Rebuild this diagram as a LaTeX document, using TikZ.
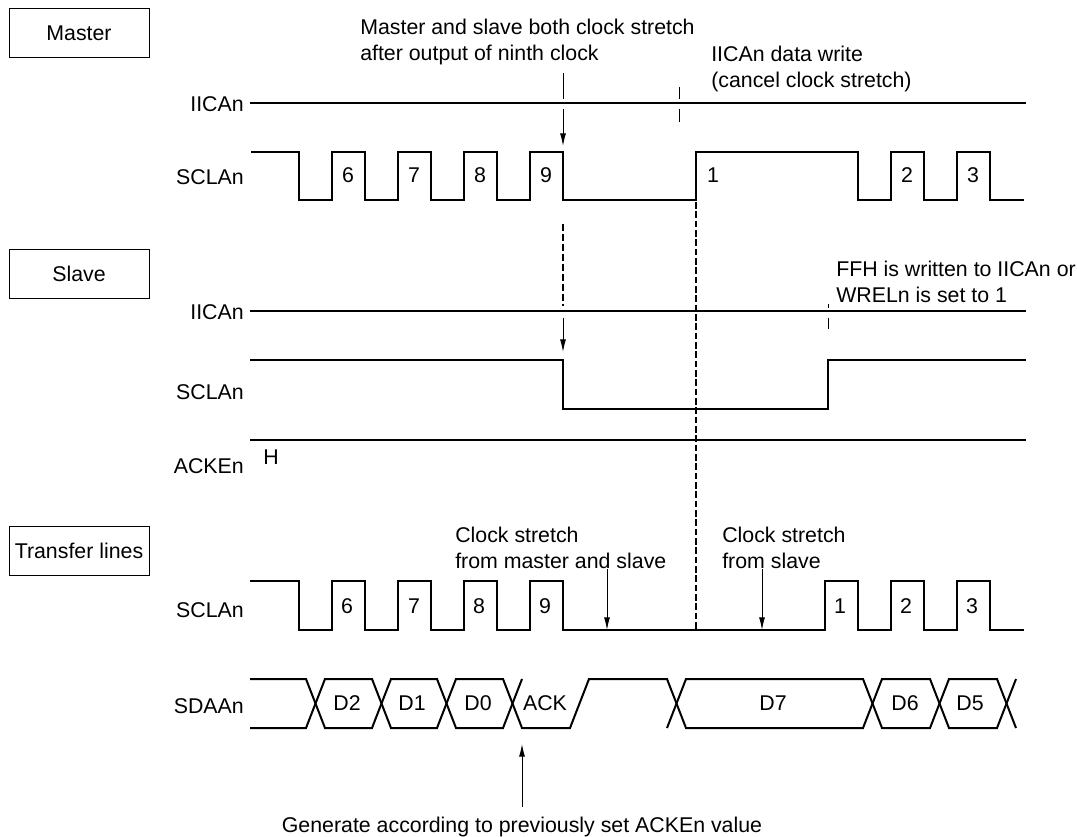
\documentclass[tikz,border=0pt]{standalone}
\usepackage{fontspec}
\setmainfont{Liberation Sans}
\usetikzlibrary{positioning,arrows.meta}
\tikzset{
  sig/.style={line width=1.5pt, line join=miter},
  thin line/.style={line width=0.75pt},
  flowarr/.style={-{Latex[length=9.5pt,width=4.5pt]}, line width=0.75pt},
  stretch/.style={dash pattern=on 5pt off 2.5pt, line width=1pt},
  release/.style={dash pattern=on 5pt off 2pt, line width=1.6pt},
  lab/.style={anchor=base east, inner sep=0pt, font=\fontsize{16}{19}\selectfont},
  txt/.style={anchor=base west, inner sep=0pt, align=left, font=\fontsize{16}{19.5}\selectfont},
  num/.style={anchor=base, inner sep=0pt, font=\fontsize{16}{19}\selectfont},
  rolebox/.style={draw, line width=0.75pt, minimum width=105pt, minimum height=37pt,
                  inner sep=0pt, font=\fontsize{16}{19}\selectfont},
}

\begin{document}
\begin{tikzpicture}[x=0.75pt,y=-0.75pt]
  \useasboundingbox (0,0) rectangle (1077,837);
  % role boxes on the left
  \node[rolebox] (master) at (79,33) {Master};
  \node[rolebox] (slave) at (79,274) {Slave};
  \node[rolebox] (transfer) at (79,551) {Transfer lines};
  % signal names
  \foreach \nm/\y/\lab in {mi/112/IICAn,ms/185/SCLAn,si/320/IICAn,ss/400/SCLAn,
      sa/473/ACKEn,ts/617/SCLAn,td/713/SDAAn}{
    \node[lab] (\nm) at (244,\y) {\lab};
  }
  % master
  \draw[sig] (250,103)--(1026,103);
  \draw[sig] (251,152)--(299,152)--(299,200)--(332,200)--(332,152)--(365,152)--(365,200)
    --(398,200)--(398,152)--(431,152)--(431,200)--(464,200)--(464,152)--(497,152)--(497,200)
    --(530,200)--(530,152)--(563,152)--(563,200)--(696,200)--(696,152)--(858,152)--(858,200)
    --(891,200)--(891,152)--(924,152)--(924,200)--(957,200)--(957,152)--(990,152)--(990,200)--(1024,200);
  \foreach \x/\lab in {348/6,414/7,480/8,546/9,713/1,907/2,973/3}{
    \node[num] at (\x,183) {\lab};
  }
  % slave
  \draw[sig] (250,311)--(1026,311);
  \draw[sig] (250,360)--(563,360)--(563,409)--(828,409)--(828,360)--(1026,360);
  \draw[sig] (250,440)--(1026,440);
  \node[num] (hlevel) at (271,464) {H};
  % transfer lines
  \draw[sig] (250,581)--(299,581)--(299,630)--(332,630)--(332,581)--(365,581)--(365,630)
    --(398,630)--(398,581)--(431,581)--(431,630)--(464,630)--(464,581)--(497,581)--(497,630)
    --(530,630)--(530,581)--(563,581)--(563,630)--(825,630)--(825,581)--(858,581)--(858,630)
    --(891,630)--(891,581)--(924,581)--(924,630)--(957,630)--(957,581)--(990,581)--(990,630)--(1024,630);
  \foreach \x/\lab in {347/6,414/7,479/8,545/9,840/1,906/2,972/3}{
    \node[num] at (\x,613) {\lab};
  }
  \draw[sig] (250,679)--(306,679)--(325,728)--(372,728)--(391,679)--(437,679)--(456,728)--(503,728)--(522,679);
  \draw[sig] (250,728)--(306,728)--(325,679)--(372,679)--(391,728)--(437,728)--(456,679)--(503,679)
    --(522,728)--(570,728)--(589,679)--(667,679)--(686,728)--(863,728)--(882,679)--(930,679)
    --(949,728)--(997,728)--(1016,679);
  \draw[sig] (667,728)--(686,679)--(863,679)--(882,728)--(930,728)--(949,679)--(997,679)--(1016,728);
  \foreach \x/\lab in {347/D2,412/D1,478/D0,545/ACK,773/D7,905/D6,970/D5}{
    \node[num] at (\x,710) {\lab};
  }
  % dashed guides
  \coordinate (guidea) at (563,224);
  \coordinate (guideb) at (563,306);
  \draw[stretch] (guidea)--(guideb);
  \coordinate (relt) at (696,202);
  \coordinate (relb) at (696,630);
  \draw[release] (relt)--(relb);
  % ticks and arrows
  \coordinate (ma) at (563,73);
  \coordinate (mb) at (563,99);
  \coordinate (mc) at (563,109);
  \coordinate (md) at (563,146);
  \draw[thin line] (ma)--(mb);
  \draw[flowarr] (mc)--(md);
  \coordinate (wa) at (679,87);
  \coordinate (wb) at (679,99);
  \coordinate (wc) at (679,109);
  \coordinate (wd) at (679,122);
  \draw[thin line] (wa)--(wb) (wc)--(wd);
  \coordinate (sa1) at (563,318);
  \coordinate (sa2) at (563,352);
  \draw[flowarr] (sa1)--(sa2);
  \coordinate (fa) at (828,304);
  \coordinate (fb) at (828,308);
  \coordinate (fc) at (828,318);
  \coordinate (fd) at (828,329);
  \draw[thin line] (fa)--(fb) (fc)--(fd);
  \coordinate (tsa) at (607,569);
  \coordinate (tsb) at (607,630);
  \draw[flowarr] (tsa)--(tsb);
  \coordinate (tsc) at (762,569);
  \coordinate (tsd) at (762,630);
  \draw[flowarr] (tsc)--(tsd);
  % notes
  \node[txt] (both) at (360,61) {Master and slave both clock stretch\\after output of ninth clock};
  \node[txt] (write) at (711,88) {IICAn data write\\(cancel clock stretch)};
  \node[txt] (ffh) at (836,303) {FFH is written to IICAn or\\WRELn is set to 1};
  \node[txt] (cboth) at (455,568) {Clock stretch\\from master and slave};
  \node[txt] (cslave) at (722,568) {Clock stretch\\from slave};
  \node[num] (gen) at (522,832) {Generate according to previously set ACKEn value};
  \coordinate (genb) at (522,807);
  \coordinate (gent) at (522,744);
  \draw[flowarr] (genb)--(gent);
\end{tikzpicture}
\end{document}
